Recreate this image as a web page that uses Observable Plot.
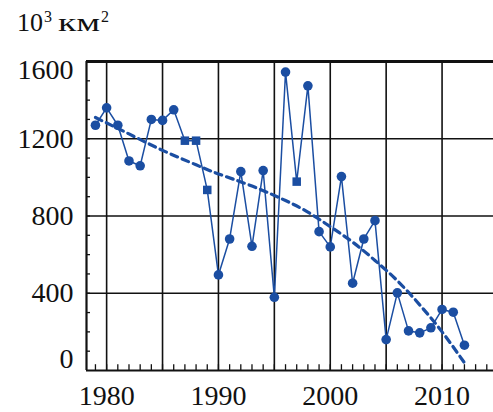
<!DOCTYPE html>
<html>
<head>
<meta charset="utf-8">
<script src="https://cdn.jsdelivr.net/npm/d3@7"></script>
<script src="https://cdn.jsdelivr.net/npm/@observablehq/plot@0.6"></script>
<style>
  body { margin: 0; background: #fff; }
  #wrap { width: 493px; position: relative; }
  #title { height: 45px; position: relative; font-family: "Liberation Serif", serif; color: #111; }
  #t { position: absolute; left: 17px; top: 10px; font-size: 26px; line-height: 1; white-space: nowrap; }
  #t .e { font-size: 16px; position: relative; top: -9px; margin-left: 1px; }
  #t .u { display: inline-block; transform: scaleX(1.45); transform-origin: left center; margin-left: 6px; margin-right: 13px; }
</style>
</head>
<body>
<div id="wrap">
  <div id="title"><span id="t">10<span class="e">3</span><span class="u">км</span><span class="e">2</span></span></div>
  <div id="chart"></div>
</div>
<script>
// Observed values (10^3 km^2)
const years = [1979,1980,1981,1982,1983,1984,1985,1986,1987,1988,1989,1990,1991,1992,1993,1994,1995,1996,1997,1998,1999,2000,2001,2002,2003,2004,2005,2006,2007,2008,2009,2010,2011,2012];
const area  = [1270,1360,1270,1085,1060,1300,1295,1350,1190,1190,935,495,681,1030,643,1035,379,1545,978,1474,719,640,1004,452,681,776,160,402,205,195,221,316,302,131];
const squareYears = [1987,1988,1989,1997];

// Dashed trend curve
const trendYears  = [1979,1982,1985,1988,1990,1993,1996,1998,2000,2002,2004,2006,2008,2010,2012];
const trendValues = [1310,1225,1140,1065,1018,955,880,820,745,665,570,465,340,200,40];

// Axis ticks
const xLabelTicks = [1980,1990,2000,2010];
const xGridTicks = [1980,1985,1990,1995,2000,2005,2010];
const xMinorTicks = d3.range(1979, 2015);
const yGridTicks = [400,800,1200];
const yMinorTicks = d3.range(100, 1600, 100);

const data = years.map((y, i) => ({year: y, value: area[i], square: squareYears.includes(y)}));
const trend = trendYears.map((y, i) => ({year: y, value: trendValues[i]}));

const xDomain = [1978.2, 2014.6];
const blue = "#1b4ea2";

const chart = Plot.plot({
  width: 493,
  height: 367,
  marginTop: 16,
  marginBottom: 42,
  marginLeft: 86,
  marginRight: 0,
  style: {fontFamily: "Liberation Serif, serif", fontSize: "28px", color: "#111", background: "#fff"},
  x: {domain: xDomain, label: null},
  y: {domain: [0, 1600], label: null},
  marks: [
    // grid
    Plot.ruleX(xGridTicks, {stroke: "#111", strokeWidth: 1.6}),
    Plot.ruleY(yGridTicks, {stroke: "#111", strokeWidth: 1.6}),
    // minor ticks
    Plot.ruleX(xMinorTicks, {x: d => d, y1: 0, y2: 30, stroke: "#111", strokeWidth: 1.3}),
    Plot.ruleY(yMinorTicks, {y: d => d, x1: xDomain[0], x2: xDomain[0] + 0.36, stroke: "#111", strokeWidth: 1.3}),
    // frame
    Plot.ruleX([xDomain[0]], {stroke: "#111", strokeWidth: 2.2}),
    Plot.ruleY([0], {stroke: "#111", strokeWidth: 2.2}),
    Plot.ruleY([1600], {stroke: "#111", strokeWidth: 3.2}),
    // axes labels
    Plot.axisX({ticks: xLabelTicks, tickSize: 0, tickPadding: 15, label: null, tickFormat: d => String(d), fill: "#111"}),
    Plot.axisY({ticks: [400, 800, 1200], tickSize: 0, tickPadding: 13, label: null, tickFormat: d => String(d), fill: "#111"}),
    Plot.axisY({ticks: [1600], tickSize: 0, tickPadding: 13, dy: 9, label: null, tickFormat: d => String(d), fill: "#111"}),
    Plot.axisY({ticks: [0], tickSize: 0, tickPadding: 13, dy: -11, label: null, tickFormat: d => String(d), fill: "#111"}),
    // trend
    Plot.line(trend, {x: "year", y: "value", curve: "natural", stroke: blue, strokeWidth: 3.2, strokeDasharray: "7,5"}),
    // series
    Plot.line(data, {x: "year", y: "value", stroke: blue, strokeWidth: 1.5}),
    Plot.dot(data.filter(d => !d.square), {x: "year", y: "value", r: 4.8, fill: blue, stroke: "none"}),
    Plot.dot(data.filter(d => d.square), {x: "year", y: "value", r: 4.8, symbol: "square", fill: blue, stroke: "none"})
  ]
});
document.getElementById("chart").appendChild(chart);
</script>
</body>
</html>
